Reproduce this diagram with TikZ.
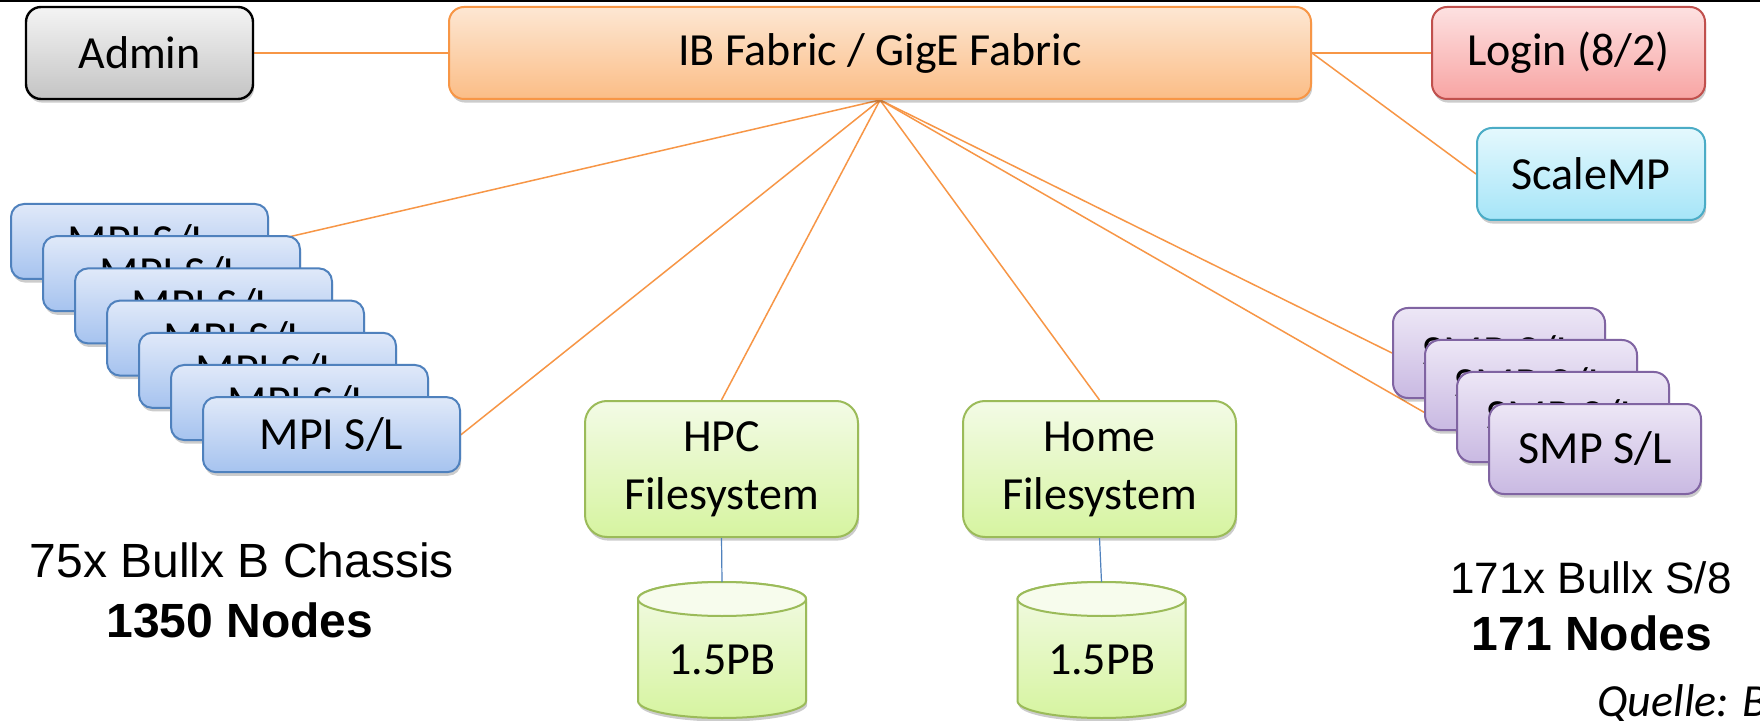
\documentclass[tikz,border=0pt]{standalone}
\usepackage{fontspec}
\setmainfont{Carlito}
\newfontfamily\arialfont{Liberation Sans}
\usetikzlibrary{shadows}
\pgfdeclarelayer{background}
\pgfsetlayers{background,main}
\definecolor{orangeline}{HTML}{F79646}
\definecolor{blueline}{HTML}{4F81BD}
\definecolor{adminTop}{HTML}{F4F4F4}
\definecolor{adminBot}{HTML}{C4C4C4}
\definecolor{ibTop}{HTML}{FDE7D3}
\definecolor{ibBot}{HTML}{FBBD86}
\definecolor{ibBorder}{HTML}{F79646}
\definecolor{loginTop}{HTML}{FDE1E1}
\definecolor{loginBot}{HTML}{F8A4A3}
\definecolor{loginBorder}{HTML}{C0504D}
\definecolor{scaleTop}{HTML}{E4F8FD}
\definecolor{scaleBot}{HTML}{A6E5F8}
\definecolor{scaleBorder}{HTML}{4BACC6}
\definecolor{mpiTop}{HTML}{E0E9F9}
\definecolor{mpiBot}{HTML}{A6C3EF}
\definecolor{mpiBorder}{HTML}{4F81BD}
\definecolor{fsTop}{HTML}{F3FBE6}
\definecolor{fsBot}{HTML}{D6F4A0}
\definecolor{fsBorder}{HTML}{9BBB59}
\definecolor{smpTop}{HTML}{EDE7F6}
\definecolor{smpBot}{HTML}{C9B9E2}
\definecolor{smpBorder}{HTML}{8064A2}
\newcommand\drawcyl[2]{%
  \draw[cylbody] ({#1-84},{#2-51}) -- ({#1-84},{#2+51})
     arc[start angle=180,end angle=0,x radius=84,y radius=17]
     -- ({#1+84},{#2-51})
     arc[start angle=0,end angle=-180,x radius=84,y radius=17] -- cycle;
  \draw[cyltop] (#1,{#2-51}) ellipse[x radius=84, y radius=17];
}
\begin{document}
\begin{tikzpicture}[x=0.5pt,y=-0.5pt,
  shad/.style={drop shadow={shadow xshift=0.6pt, shadow yshift=-1.8pt, opacity=0.2, fill=black}},
  boxbase/.style={draw, rounded corners=7.5pt, line width=1pt, inner sep=0pt,
     align=center, text=black, font=\fontsize{23}{29}\selectfont, shad},
  adminbox/.style={boxbase, draw=black, line width=1.2pt, top color=adminTop, bottom color=adminBot,
     minimum width=113.5pt, minimum height=46pt},
  ibbox/.style={boxbase, draw=ibBorder, top color=ibTop, bottom color=ibBot,
     minimum width=431pt, minimum height=46pt},
  loginbox/.style={boxbase, draw=loginBorder, top color=loginTop, bottom color=loginBot,
     minimum width=136.5pt, minimum height=46pt},
  scalebox/.style={boxbase, draw=scaleBorder, top color=scaleTop, bottom color=scaleBot,
     minimum width=114pt, minimum height=46pt},
  mpibox/.style={boxbase, rounded corners=6.5pt, draw=mpiBorder, top color=mpiTop, bottom color=mpiBot,
     minimum width=128.5pt, minimum height=37.5pt},
  smpbox/.style={boxbase, draw=smpBorder, top color=smpTop, bottom color=smpBot,
     minimum width=106pt, minimum height=45pt},
  fsbox/.style={boxbase, rounded corners=11pt, draw=fsBorder, top color=fsTop, bottom color=fsBot,
     minimum width=136.5pt, minimum height=68pt},
  cylbody/.style={draw=fsBorder, line width=1pt, top color=fsTop, bottom color=fsBot, shad},
  cyltop/.style={draw=fsBorder, line width=1pt, fill=fsTop!70!white},
  cyllabel/.style={inner sep=0pt, font=\fontsize{23}{29}\selectfont},
  conn/.style={draw=orangeline, line width=0.75pt},
  fsconn/.style={draw=blueline, line width=0.6pt},
  bottomtext/.style={inner sep=0pt, anchor=base, font=\arialfont\fontsize{24}{30}\selectfont},
]
\useasboundingbox (0,0) rectangle (1760,721);
\begin{pgfonlayer}{background}
  \fill[white] (0,0) rectangle (1760,721);
\end{pgfonlayer}
\draw[black, line width=1pt] (0,1) -- (1760,1);

% top row
\node[adminbox] (admin) at (139.5,53) {Admin};
\node[ibbox] (ib) at (880,53) {IB Fabric / GigE Fabric};
\node[loginbox] (login) at (1568.5,53) {Login (8/2)};
\node[scalebox] (scalemp) at (1591,174) {ScaleMP};

% MPI stack
\foreach \i in {0,...,6}{
  \node[mpibox] (mpi\i) at ({139.5+32*\i},{241.5+32.2*\i}) {MPI S/L};
}

% SMP stack
\foreach \i in {0,...,3}{
  \node[smpbox] (smp\i) at ({1499+32*\i},{353+32*\i}) {SMP S/L};
}

% filesystems
\node[fsbox] (hpc) at (721.5,469) {HPC\\Filesystem};
\node[fsbox] (home) at (1099.5,469) {Home\\Filesystem};

% storage cylinders
\drawcyl{722}{650}
\node[cyllabel] (cyl1) at (722,660) {1.5PB};
\coordinate (cyl1top) at (722,582);
\drawcyl{1101.5}{650}
\node[cyllabel] (cyl2) at (1101.5,660) {1.5PB};
\coordinate (cyl2top) at (1101.5,582);

% connectors (behind the boxes)
\begin{pgfonlayer}{background}
  \draw[conn, line width=0.9pt] (admin.east) -- (ib.west);
  \draw[conn, line width=0.9pt] (ib.east) -- (login.west);
  \draw[conn] (ib.east) -- (scalemp.west);
  \draw[conn] (ib.south) -- (mpi0.east);
  \draw[conn] (ib.south) -- (mpi6.east);
  \draw[conn] (ib.south) -- (hpc.north);
  \draw[conn] (ib.south) -- (home.north);
  \draw[conn] (ib.south) -- (smp0.west);
  \draw[conn] (ib.south) -- (smp3.west);
\end{pgfonlayer}
\draw[fsconn] (hpc.south) -- (cyl1top);
\draw[fsconn] (home.south) -- (cyl2top);

% captions
\node[bottomtext] (leftA) at (242,577) {75x Bullx B Chassis};
\node[bottomtext] (leftB) at (240,637) {\bfseries 1350 Nodes};
\node[bottomtext, font=\arialfont\fontsize{22}{30}\selectfont] (rightA) at (1591,593) {171x Bullx S/8};
\node[bottomtext] (rightB) at (1592,650) {\bfseries 171 Nodes};
\node[inner sep=0pt, anchor=base west, font=\itshape\fontsize{23}{29}\selectfont] (quelle) at (1597,716) {Quelle: B};
\end{tikzpicture}
\end{document}
